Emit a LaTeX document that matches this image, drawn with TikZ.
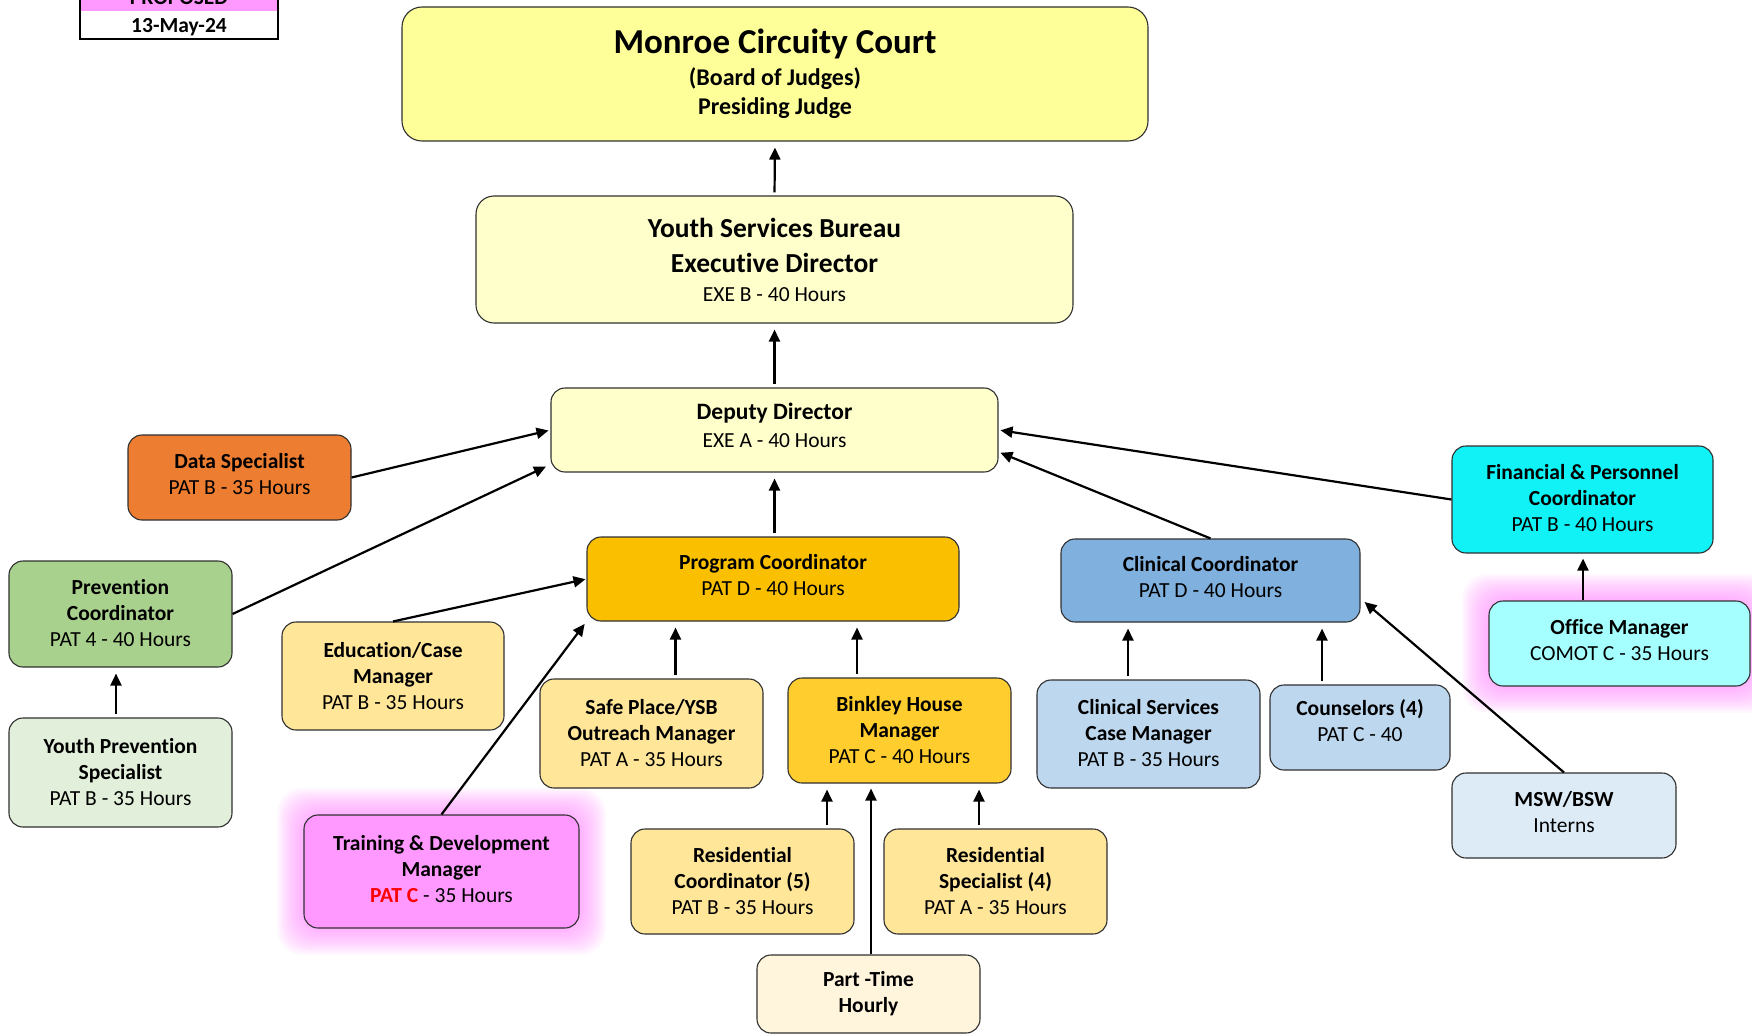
\documentclass[tikz,border=0pt]{standalone}
\usepackage{fontspec}
\setmainfont{Carlito}[Ligatures=NoCommon]
\usetikzlibrary{arrows.meta,calc,backgrounds}
\definecolor{monroeY}{HTML}{FFFF99}
\definecolor{ysbY}{HTML}{FFFFCC}
\definecolor{dataO}{HTML}{ED7D31}
\definecolor{prevG}{HTML}{A9D18E}
\definecolor{ypsG}{HTML}{E2EFDA}
\definecolor{progO}{HTML}{FAC000}
\definecolor{binkO}{HTML}{FFCD2D}
\definecolor{eduY}{HTML}{FFE699}
\definecolor{trainP}{HTML}{FF99FF}
\definecolor{ptY}{HTML}{FFF5DD}
\definecolor{ccB}{HTML}{7FB0DE}
\definecolor{csmB}{HTML}{BDD7EE}
\definecolor{mswB}{HTML}{DDEBF7}
\definecolor{finC}{HTML}{10F2F5}
\definecolor{offC}{HTML}{A6FFFF}
\definecolor{glowP}{HTML}{FF88FF}
\definecolor{boxline}{HTML}{303030}
\newcommand{\lowstrut}[1]{\rule[-#1]{0pt}{0pt}}
\begin{document}
\begin{tikzpicture}[x=1pt,y=-1pt,
  box/.style={draw=boxline, line width=1.1pt, rounded corners=14pt, align=center,
    inner sep=2pt, font=\fontsize{21.5}{26}\selectfont},
  arr/.style={line width=2.2pt, -{Triangle[length=12pt,width=11pt]}},
  varr/.style={arr, shorten <=3pt, shorten >=6pt},
  glowstyle/.style={fill=glowP, opacity=0.065, rounded corners=24pt}
]
\clip (0,0) rectangle (1752,1035);

% legend
\node[fill=trainP, minimum width=198pt, minimum height=26pt, inner sep=0pt,
  font=\fontsize{21.5}{26}\selectfont\bfseries] (legp) at (179,-2) {PROPOSED};
\node[fill=white, minimum width=198pt, minimum height=28pt, inner sep=0pt,
  font=\fontsize{21.5}{26}\selectfont\bfseries] (legd) at (179,27.5) {13-May-24};
\draw[line width=2pt] (legp.north west) rectangle (legd.south east |- 0,39);

% boxes
\node[box, fill=monroeY, rounded corners=20pt, minimum width=746pt, minimum height=134pt,
  font=\fontsize{24}{28}\selectfont\bfseries] (monroe) at (775,74)
  {{\fontsize{35}{40}\selectfont Monroe Circuity Court}\\[4pt]
   (Board of Judges)\\[0.5pt]
   Presiding Judge};
\node[box, fill=ysbY, rounded corners=18pt, minimum width=597pt, minimum height=127pt] (ysb) at (774.5,259.5)
  {{\fontsize{27.5}{33}\selectfont\bfseries Youth Services Bureau}\\[9pt]
   {\fontsize{27.5}{33}\selectfont\bfseries Executive Director}\\[3pt]
   EXE B - 40 Hours};
\node[box, fill=ysbY, minimum width=447pt, minimum height=84pt] (deputy) at (774.5,430)
  {{\fontsize{23.5}{28}\selectfont\bfseries Deputy Director}\\[2pt] EXE A - 40 Hours\lowstrut{9pt}};
\node[box, fill=dataO, minimum width=223pt, minimum height=85pt] (data) at (239.5,477.5)
  {\textbf{Data Specialist}\\ PAT B - 35 Hours\lowstrut{8pt}};
\node[box, fill=prevG, minimum width=223pt, minimum height=106pt] (prev) at (120.5,614)
  {\textbf{Prevention}\\ \textbf{Coordinator}\\ PAT 4 - 40 Hours\lowstrut{2pt}};
\node[box, fill=ypsG, minimum width=223pt, minimum height=109pt] (yps) at (120.5,772.5)
  {\textbf{Youth Prevention}\\ \textbf{Specialist}\\ PAT B - 35 Hours\lowstrut{2pt}};
\node[box, fill=progO, minimum width=372pt, minimum height=84pt] (prog) at (773,579)
  {\textbf{Program Coordinator}\\ PAT D - 40 Hours\lowstrut{8pt}};
\node[box, fill=eduY, minimum width=222pt, minimum height=108pt] (edu) at (393,676)
  {\textbf{Education/Case}\\ \textbf{Manager}\\ PAT B - 35 Hours};
\node[box, fill=eduY, minimum width=223pt, minimum height=109pt] (safe) at (651.5,733.5)
  {\textbf{Safe Place/YSB}\\ \textbf{Outreach Manager}\\ PAT A - 35 Hours};
\node[box, fill=binkO, minimum width=223pt, minimum height=105pt] (bink) at (899.5,730.5)
  {\textbf{Binkley House}\\ \textbf{Manager}\\ PAT C - 40 Hours};
\node[box, fill=trainP, minimum width=275pt, minimum height=113pt] (train) at (441.5,871.5)
  {\textbf{Training \& Development}\\ \textbf{Manager}\\ \textbf{\textcolor{red}{PAT C}} - 35 Hours\lowstrut{6pt}};
\node[box, fill=eduY, minimum width=223pt, minimum height=105pt] (rc) at (742.5,881.5)
  {\textbf{Residential}\\ \textbf{Coordinator (5)}\\ PAT B - 35 Hours};
\node[box, fill=eduY, minimum width=223pt, minimum height=105pt] (rs) at (995.5,881.5)
  {\textbf{Residential}\\ \textbf{Specialist (4)}\\ PAT A - 35 Hours};
\node[box, fill=ptY, minimum width=223pt, minimum height=78pt] (pt) at (868.5,994)
  {\textbf{Part -Time}\\ \textbf{Hourly}};
\node[box, fill=ccB, minimum width=299pt, minimum height=83pt] (cc) at (1210.5,580.5)
  {\textbf{Clinical Coordinator}\\ PAT D - 40 Hours\lowstrut{8pt}};
\node[box, fill=csmB, minimum width=223pt, minimum height=108pt] (csm) at (1148.5,734)
  {\textbf{Clinical Services}\\ \textbf{Case Manager}\\ PAT B - 35 Hours\lowstrut{2pt}};
\node[box, fill=csmB, minimum width=180pt, minimum height=85pt] (couns) at (1360,727.5)
  {\textbf{Counselors (4)}\\ PAT C - 40\lowstrut{14pt}};
\node[box, fill=mswB, minimum width=224pt, minimum height=85pt] (msw) at (1564,815.5)
  {\textbf{MSW/BSW}\\ Interns\lowstrut{8pt}};
\node[box, fill=finC, minimum width=261pt, minimum height=107pt] (fin) at (1582.5,499.5)
  {\textbf{Financial \& Personnel}\\ \textbf{Coordinator}\\ PAT B - 40 Hours\lowstrut{3pt}};
\node[box, fill=offC, minimum width=261pt, minimum height=85pt] (office) at (1619.5,643.5)
  {\textbf{Office Manager}\\ COMOT C - 35 Hours\lowstrut{7pt}};

% white page and glows behind the boxes
\begin{pgfonlayer}{background}
\fill[white] (0,0) rectangle (1752,1035);
\foreach \n in {train,office}{
  \foreach \r in {2,4,...,26}{
    \fill[glowstyle] ($(\n.south west)+(-\r,\r)$) rectangle ($(\n.north east)+(\r,-\r)$);
  }
}
\end{pgfonlayer}

% connectors
\draw[varr] (ysb.north) -- (monroe.south);
\draw[varr] (deputy.north) -- (ysb.south);
\draw[varr] ($(prog.north)+(1.5,0)$) coordinate (p1) -- (p1 |- deputy.south);
\draw[arr, shorten >=2pt] (data.east) -- (deputy.west);
\draw[arr, shorten >=5pt] (prev.east) -- ($(deputy.south west)+(0,-8)$);
\draw[varr] ($(yps.north)+(-4.5,0)$) coordinate (y1) -- (y1 |- prev.south);
\draw[arr, shorten >=1pt] (edu.north) -- (prog.west);
\draw[arr, shorten >=3pt] (train.north) -- (prog.south west);
\draw[varr] ($(safe.north)+(24,0)$) coordinate (s1) -- (s1 |- prog.south);
\draw[varr] ($(bink.north)+(-42.5,0)$) coordinate (b1) -- (b1 |- prog.south);
\draw[varr] ($(rc.north)+(84.5,0)$) coordinate (r1) -- (r1 |- bink.south);
\draw[varr] ($(rs.north)+(-16.5,0)$) coordinate (r2) -- (r2 |- bink.south);
\draw[arr, shorten >=5pt] ($(pt.north)+(2.5,0)$) coordinate (t1) -- (t1 |- bink.south);
\draw[varr] ($(csm.north)+(-20.5,0)$) coordinate (c1) -- (c1 |- cc.south);
\draw[varr] ($(couns.north)+(-38,0)$) coordinate (c2) -- (c2 |- cc.south);
\draw[arr, shorten >=5pt] ($(office.north)+(-36.5,0)$) coordinate (o1) -- (o1 |- fin.south);
\draw[arr, shorten >=2pt] (cc.north) -- ($(deputy.east)+(0,22)$);
\draw[arr, shorten >=2pt] (fin.west) -- (deputy.east);
\draw[arr] (msw.north) -- ($(cc.east)+(4,21.5)$);
\end{tikzpicture}
\end{document}
